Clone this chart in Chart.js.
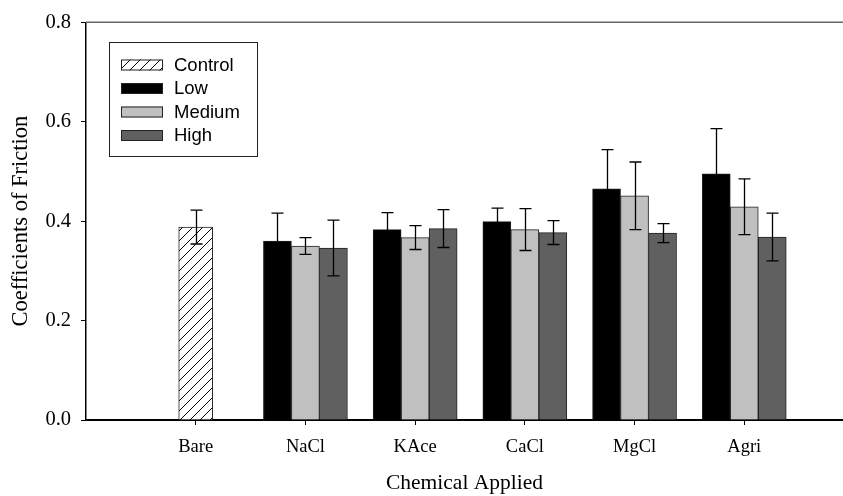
<!DOCTYPE html>
<html>
<head>
<meta charset="utf-8">
<script src="https://cdn.jsdelivr.net/npm/chart.js@4.4.0/dist/chart.umd.min.js"></script>
<style>
  body { margin: 0; background: #fff; }
  #wrap { width: 843px; height: 496px; }
</style>
</head>
<body>
<div id="wrap"><canvas id="myChart" width="843" height="496"></canvas></div>
<script>
// values
var categories = ['Bare', 'NaCl', 'KAce', 'CaCl', 'MgCl', 'Agri'];
var control    = [0.388, null, null, null, null, null];
var controlErr = [0.034, null, null, null, null, null];
var low        = [null, 0.360, 0.383, 0.399, 0.465, 0.495];
var lowErr     = [null, 0.056, 0.034, 0.027, 0.079, 0.091];
var medium     = [null, 0.350, 0.367, 0.383, 0.451, 0.429];
var mediumErr  = [null, 0.017, 0.024, 0.042, 0.068, 0.056];
var high       = [null, 0.346, 0.385, 0.377, 0.376, 0.368];
var highErr    = [null, 0.056, 0.038, 0.024, 0.019, 0.048];
var yTicks = [0.0, 0.2, 0.4, 0.6, 0.8];

var ctx = document.getElementById('myChart').getContext('2d');

function hatchPattern() {
    var c = document.createElement('canvas');
    c.width = 10; c.height = 10;
    var g = c.getContext('2d');
    g.fillStyle = '#fff';
    g.fillRect(0, 0, 10, 10);
    g.strokeStyle = '#000';
    g.lineWidth = 1;
    g.beginPath();
    g.moveTo(0, 10); g.lineTo(10, 0);
    g.moveTo(-1, 1); g.lineTo(1, -1);
    g.moveTo(9, 11); g.lineTo(11, 9);
    g.stroke();
    return ctx.createPattern(c, 'repeat');
}
var hatch = hatchPattern();

function points(vals) {
    return categories.map(function (c, i) { return { x: i, y: vals[i] }; });
}

var errorBars = {
    id: 'errorBars',
    afterDatasetsDraw: function (chart) {
        var c = chart.ctx, y = chart.scales.y;
        c.save();
        c.strokeStyle = '#000';
        c.lineWidth = 1.3;
        chart.data.datasets.forEach(function (ds, di) {
            var meta = chart.getDatasetMeta(di);
            meta.data.forEach(function (bar, i) {
                var v = ds.data[i].y, e = ds.errors[i];
                if (v == null || e == null) return;
                var x = Math.round(bar.x) + 0.5;
                var top = y.getPixelForValue(v + e), bot = y.getPixelForValue(v - e);
                c.beginPath();
                c.moveTo(x, top); c.lineTo(x, bot);
                c.moveTo(x - 6, top); c.lineTo(x + 6, top);
                c.moveTo(x - 6, bot); c.lineTo(x + 6, bot);
                c.stroke();
            });
        });
        c.restore();
    }
};

var frameAndLegend = {
    id: 'frameAndLegend',
    afterDraw: function (chart) {
        var c = chart.ctx, a = chart.chartArea;
        c.save();
        // top frame line
        c.strokeStyle = '#666';
        c.lineWidth = 1.5;
        c.beginPath();
        c.moveTo(a.left, a.top); c.lineTo(chart.width, a.top);
        c.stroke();
        // legend box
        c.strokeStyle = '#222';
        c.lineWidth = 1;
        c.strokeRect(109.5, 42.5, 148, 114);
        c.font = '18.5px "Liberation Sans", Arial, sans-serif';
        c.textBaseline = 'middle';
        chart.data.datasets.forEach(function (ds, i) {
            var cy = 65 + i * 23.5;
            c.fillStyle = ds.backgroundColor;
            c.fillRect(121, cy - 5.5, 42, 11);
            c.strokeStyle = '#222';
            c.strokeRect(121.5, cy - 5, 41, 10);
            c.fillStyle = '#000';
            c.fillText(ds.label, 174, cy + 0.5);
        });
        c.restore();
    }
};

var myChart = new Chart(ctx, {
    type: 'bar',
    data: {
        datasets: [
            { label: 'Control', data: points(control), errors: controlErr, backgroundColor: hatch, barThickness: 34 },
            { label: 'Low', data: points(low), errors: lowErr, backgroundColor: '#000000', barThickness: 28 },
            { label: 'Medium', data: points(medium), errors: mediumErr, backgroundColor: '#c0c0c0', barThickness: 28 },
            { label: 'High', data: points(high), errors: highErr, backgroundColor: '#606060', barThickness: 28 }
        ]
    },
    options: {
        responsive: false,
        animation: false,
        layout: { padding: { top: 20, right: 0, left: 0, bottom: 0 } },
        datasets: { bar: { skipNull: true, borderColor: '#222', borderWidth: 1 } },
        plugins: { legend: { display: false }, tooltip: { enabled: false } },
        scales: {
            x: {
                type: 'linear',
                min: -1,
                max: 5.9,
                offset: false,
                afterBuildTicks: function (s) { s.ticks = categories.map(function (c, i) { return { value: i }; }); },
                afterFit: function (s) { s.height = 76; },
                ticks: {
                    autoSkip: false,
                    maxRotation: 0,
                    padding: 11,
                    color: '#000',
                    font: { family: '"Liberation Serif", "Times New Roman", serif', size: 18.5 },
                    callback: function (v) { return categories[v]; }
                },
                grid: { drawOnChartArea: false, offset: false, tickLength: 5, color: '#000', tickWidth: 1 },
                border: { display: true, color: '#000', width: 2 },
                title: {
                    display: true,
                    text: 'Chemical Applied',
                    color: '#000',
                    padding: { top: 4, bottom: 0 },
                    font: { family: '"Liberation Serif", "Times New Roman", serif', size: 21.5 }
                }
            },
            y: {
                min: 0,
                max: 0.8,
                afterBuildTicks: function (s) { s.ticks = yTicks.map(function (v) { return { value: v }; }); },
                afterFit: function (s) { s.width = 86; },
                ticks: {
                    padding: 10,
                    color: '#000',
                    font: { family: '"Liberation Serif", "Times New Roman", serif', size: 20.5 },
                    callback: function (v) { return v.toFixed(1); }
                },
                grid: { drawOnChartArea: false, tickLength: 5, color: '#000' },
                border: { display: true, color: '#000', width: 1.5 },
                title: {
                    display: true,
                    text: 'Coefficients of Friction',
                    color: '#000',
                    padding: { top: 8, bottom: 0 },
                    font: { family: '"Liberation Serif", "Times New Roman", serif', size: 22.5 }
                }
            }
        }
    },
    plugins: [errorBars, frameAndLegend]
});
</script>
</body>
</html>
